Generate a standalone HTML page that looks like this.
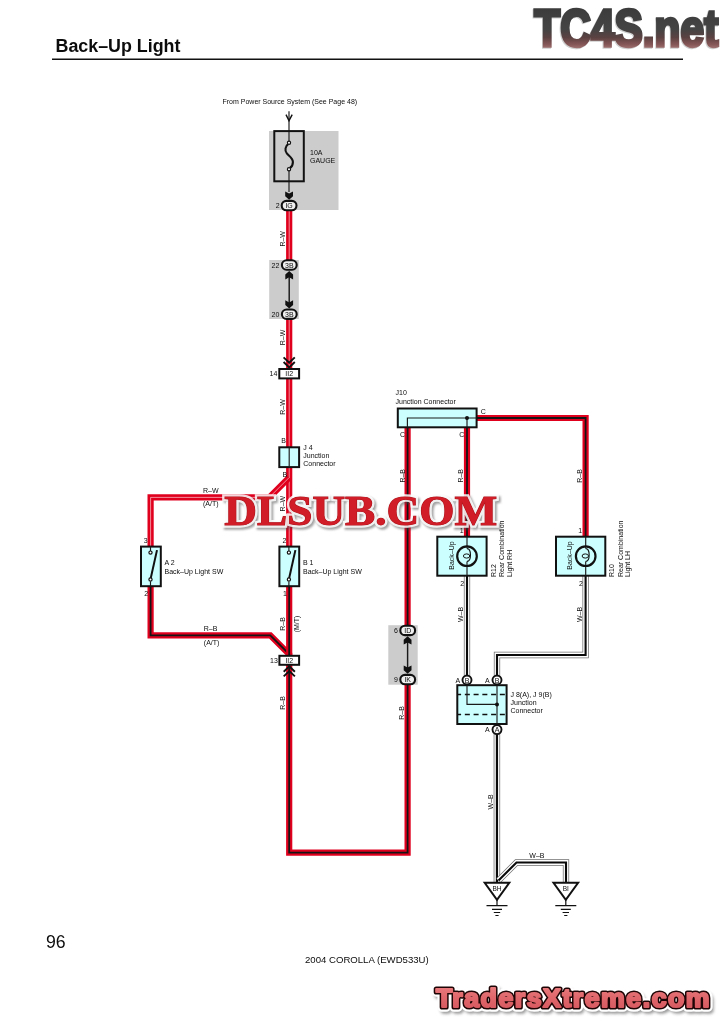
<!DOCTYPE html>
<html><head><meta charset="utf-8"><title>Back-Up Light</title>
<style>
html,body{margin:0;padding:0;background:#fff;}
body{width:724px;height:1024px;overflow:hidden;font-family:"Liberation Sans",sans-serif;}
svg{display:block;position:absolute;left:0;top:0;will-change:transform;}
text{font-family:"Liberation Sans",sans-serif;fill:#0c0c0c;}
.t{font-size:7px;}
.rw{fill:none;stroke:#e0001e;stroke-width:6.2;stroke-linejoin:miter;}
.rws{fill:none;stroke:#fff;stroke-width:1;stroke-opacity:.55;stroke-linejoin:miter;}
.rb{fill:none;stroke:#e0001e;stroke-width:6.2;stroke-linejoin:miter;}
.rbs{fill:none;stroke:#151515;stroke-width:1.8;stroke-linejoin:miter;}
.wbo{fill:none;stroke:#707070;stroke-width:6.3;stroke-linejoin:miter;}
.wbw{fill:none;stroke:#fff;stroke-width:4.8;stroke-linejoin:miter;}
.wbs{fill:none;stroke:#0a0a0a;stroke-width:2.1;stroke-linejoin:miter;}
.bx{fill:#ccffff;stroke:#111;stroke-width:2;}
.wx{fill:#fff;stroke:#111;stroke-width:2;}
.gr{fill:#cccccc;}
.ov{fill:#efefef;stroke:#111;stroke-width:2.1;}
.thin{fill:none;stroke:#1a1a1a;stroke-width:1.15;}
.k{fill:#111;}
</style></head><body>
<svg width="724" height="1024" viewBox="0 0 724 1024">
<!-- HEADER -->
<text x="55.5" y="52" font-size="17.85" font-weight="bold">Back–Up Light</text>
<rect x="52" y="58.5" width="631" height="1.5" fill="#111"/>
<!-- FOOTER -->
<text x="46" y="948.3" font-size="17.7">96</text>
<text x="305" y="963" font-size="9.6">2004 COROLLA (EWD533U)</text>

<!-- GRAY BOXES -->
<rect class="gr" x="269" y="131" width="69.5" height="79"/>
<rect class="gr" x="269.2" y="260" width="29.6" height="59"/>
<rect class="gr" x="388.3" y="625.2" width="29.4" height="59.5"/>

<!-- WIRES -->
<g id="wires">
<!-- R-W wires -->
<path class="rw" d="M289.2 209V261"/><path class="rws" d="M289.2 209V261"/>
<path class="rw" d="M289.2 318V369"/><path class="rws" d="M289.2 318V369"/>
<path class="rw" d="M289.2 378V447"/><path class="rws" d="M289.2 378V447"/>
<path class="rw" d="M289.2 467V547"/><path class="rws" d="M289.2 467V547"/>
<path class="rw" d="M289.2 477.5L269.3 497.4H150.6V547"/><path class="rws" d="M289.2 477.5L269.3 497.4H150.6V547"/>
<!-- R-B wires -->
<path class="rb" d="M150.6 586V635.3H270.3L289.2 654.2V656"/><path class="rbs" d="M150.6 586V635.3H270.3L289.2 654.2V656"/>
<path class="rb" d="M289.2 586V656"/><path class="rbs" d="M289.2 586V656"/>
<path class="rb" d="M289.2 665V852.6H407.6V684"/><path class="rbs" d="M289.2 665V852.6H407.6V684"/>
<path class="rb" d="M407.6 626V427"/><path class="rbs" d="M407.6 626V418"/>
<path class="rb" d="M467 427V537"/><path class="rbs" d="M467 418V537"/>
<path class="rb" d="M477 418H585.6V537"/><path class="rbs" d="M467 418H585.6V537"/>
<!-- W-B wires -->
<path class="wbo" d="M467 576V676"/><path class="wbw" d="M467 576V676"/><path class="wbs" d="M467 576V676"/>
<path class="wbo" d="M585.6 576V655H497V676"/><path class="wbw" d="M585.6 576V655H497V676"/><path class="wbs" d="M585.6 576V655H497V676"/>
<path class="wbo" d="M497 734V883"/><path class="wbw" d="M497 734V883"/><path d="M494.4 734V883" stroke="#c2c2c2" stroke-width="2.2" fill="none"/><path class="wbs" d="M497 734V883"/>
<path class="wbo" d="M498.5 880.5L516.5 862.5H566V883"/><path class="wbw" d="M498.5 880.5L516.5 862.5H566V883"/><path class="wbs" d="M498.5 880.5L516.5 862.5H566V883"/>
</g>
<!-- COMPONENTS -->
<g id="comps">
<path d="M289 111.2V141.2M289 170.8V192" stroke="#222" stroke-width="1.2" fill="none"/>
<path d="M286 114.6L289 120.6L292.2 114.6" stroke="#111" stroke-width="1.4" fill="none"/>
<rect x="274.3" y="131.1" width="29.5" height="50.2" fill="none" stroke="#111" stroke-width="2"/>
<path d="M288.2 144.2C285.4 146 284.4 150.6 286.8 153.4C288.9 155.9 292.9 158 292.9 162C292.9 165.2 291.6 167 289.9 168" stroke="#111" stroke-width="2.1" fill="none"/>
<circle cx="289" cy="142.8" r="1.6" fill="#fff" stroke="#111" stroke-width="1.2"/><circle cx="289" cy="169.2" r="1.6" fill="#fff" stroke="#111" stroke-width="1.2"/>
<path class="k" d="M285.2 191.4L289.1 193.6L293.0 191.4V196.2L289.1 199.8L285.2 196.2Z"/>
<rect class="ov" x="281.7" y="200.9" width="14.8" height="9.4" rx="4.7"/><text class="t" x="289.1" y="208.1" text-anchor="middle">IG</text>
<path d="M289.2 276V304" stroke="#1a1a1a" stroke-width="1.45"/>
<path class="k" d="M285.3 279.4L289.2 277.2L293.1 279.4V274.6L289.2 271L285.3 274.6Z"/>
<path class="k" d="M285.3 300.2L289.2 302.4L293.1 300.2V305.0L289.2 308.6L285.3 305.0Z"/>
<rect class="ov" x="281.9" y="260.3" width="14.8" height="9.4" rx="4.7"/><text class="t" x="289.3" y="267.5" text-anchor="middle">3B</text>
<rect class="ov" x="281.9" y="309.5" width="14.8" height="9.4" rx="4.7"/><text class="t" x="289.3" y="316.7" text-anchor="middle">3B</text>
<path d="M283.6 357.4L289.2 362.8L294.8 357.4M283.6 362L289.2 367.4L294.8 362" fill="none" stroke="#111" stroke-width="1.9"/>
<rect class="wx" x="279.3" y="369" width="19.8" height="9.4"/><text class="t" x="289.2" y="376.2" text-anchor="middle">II2</text>
<rect class="bx" x="279.3" y="447.3" width="19.8" height="19.8"/><path class="thin" d="M289.2 447.3V467"/>
<rect class="bx" x="141" y="546.6" width="19.8" height="39.6"/><path class="thin" d="M150.5 546.6V551.2M150.5 581.2V586.6"/><path d="M150.5 579.3L157 550.1" stroke="#111" stroke-width="2" fill="none"/><circle cx="150.5" cy="552.6" r="1.6" fill="#fff" stroke="#111" stroke-width="1.2"/><circle cx="150.5" cy="579.4" r="1.6" fill="#fff" stroke="#111" stroke-width="1.2"/>
<rect class="bx" x="279.4" y="546.6" width="19.8" height="39.6"/><path class="thin" d="M288.9 546.6V551.2M288.9 581.2V586.6"/><path d="M288.9 579.3L295.4 550.1" stroke="#111" stroke-width="2" fill="none"/><circle cx="288.9" cy="552.6" r="1.6" fill="#fff" stroke="#111" stroke-width="1.2"/><circle cx="288.9" cy="579.4" r="1.6" fill="#fff" stroke="#111" stroke-width="1.2"/>
<rect class="wx" x="279.4" y="655.8" width="19.7" height="9"/><text class="t" x="289.3" y="662.8" text-anchor="middle">II2</text>
<path d="M283.7 671.8L289.3 666.4L294.9 671.8M283.7 676.4L289.3 671.0L294.9 676.4" fill="none" stroke="#111" stroke-width="1.9"/>
<path d="M407.6 642V668" stroke="#1a1a1a" stroke-width="1.45"/>
<path class="k" d="M403.7 644.6L407.6 642.4L411.5 644.6V639.8L407.6 636.2L403.7 639.8Z"/>
<path class="k" d="M403.7 665.4L407.6 667.6L411.5 665.4V670.2L407.6 673.8L403.7 670.2Z"/>
<rect class="ov" x="400.3" y="625.7" width="14.8" height="9.4" rx="4.7"/><text class="t" x="407.7" y="632.9" text-anchor="middle">ID</text>
<rect class="ov" x="400.3" y="674.9" width="14.8" height="9.4" rx="4.7"/><text class="t" x="407.7" y="682.1" text-anchor="middle">IK</text>
<rect class="bx" x="397.8" y="408.5" width="78.8" height="18.8"/>
<path class="thin" d="M407.4 427.3V418H477M467 418V427.3"/><circle class="k" cx="467" cy="418" r="2"/>
<rect class="bx" x="437.3" y="536.7" width="49.3" height="39"/><path class="thin" d="M467 536.7V548.6M467 561.4V575.7"/><circle cx="467" cy="556.2" r="9.8" fill="none" stroke="#111" stroke-width="2.2"/><path d="M467 548.6C471.6 548.6 471.6 561.4 467 561.4" fill="none" stroke="#111" stroke-width="1.15"/><ellipse cx="466.6" cy="556" rx="3.2" ry="2.1" fill="none" stroke="#111" stroke-width="1"/>
<rect class="bx" x="556.0" y="536.7" width="49.3" height="39"/><path class="thin" d="M585.7 536.7V548.6M585.7 561.4V575.7"/><circle cx="585.7" cy="556.2" r="9.8" fill="none" stroke="#111" stroke-width="2.2"/><path d="M585.7 548.6C590.3000000000001 548.6 590.3000000000001 561.4 585.7 561.4" fill="none" stroke="#111" stroke-width="1.15"/><ellipse cx="585.3000000000001" cy="556" rx="3.2" ry="2.1" fill="none" stroke="#111" stroke-width="1"/>
<rect class="bx" x="457.3" y="685.2" width="49.3" height="38.8"/>
<path d="M457.3 694.4H506.6M457.3 714.6H506.6" stroke="#111" stroke-width="1.5" stroke-dasharray="5 3.75" stroke-dashoffset="1.2" fill="none"/>
<path class="thin" d="M467 685V704.4H497M497 685V724"/><circle class="k" cx="497" cy="704.4" r="2"/>
<circle cx="467" cy="680" r="4.5" fill="#fff" stroke="#111" stroke-width="1.9"/><text class="t" x="467" y="682.5" text-anchor="middle">B</text>
<circle cx="497" cy="680" r="4.5" fill="#fff" stroke="#111" stroke-width="1.9"/><text class="t" x="497" y="682.5" text-anchor="middle">B</text>
<circle cx="497" cy="729.6" r="4.5" fill="#fff" stroke="#111" stroke-width="1.9"/><text class="t" x="497" y="732.1" text-anchor="middle">A</text>
<path d="M484.7 882.8H509.3L497 899.8Z" fill="#fff" stroke="#111" stroke-width="2" stroke-linejoin="miter"/><text x="497" y="891.1" font-size="6.5" text-anchor="middle">BH</text><path d="M497 899.8V905.6" stroke="#111" stroke-width="1.2"/><path d="M486.5 905.6H507.5M492 909.4H502M493.8 912.5H500.2M495.4 915.5H498.6" stroke="#111" stroke-width="1.2"/>
<path d="M553.5 882.8H578.1L565.8 899.8Z" fill="#fff" stroke="#111" stroke-width="2" stroke-linejoin="miter"/><text x="565.8" y="891.1" font-size="6.5" text-anchor="middle">BI</text><path d="M565.8 899.8V905.6" stroke="#111" stroke-width="1.2"/><path d="M555.3 905.6H576.3M560.8 909.4H570.8M562.6 912.5H569.0M564.2 915.5H567.4" stroke="#111" stroke-width="1.2"/>
</g>
<!-- LABELS -->
<g id="labels">
<text class="t" x="222.5" y="104.3">From Power Source System (See Page 48)</text>
<text class="t" x="310" y="155">10A</text>
<text class="t" x="310" y="162.5">GAUGE</text>
<text class="t" x="275.7" y="207.8">2</text>
<text class="t" x="271.5" y="267.5">22</text>
<text class="t" x="271.5" y="316.7">20</text>
<text class="t" transform="translate(285.0 238.8) rotate(-90)" text-anchor="middle">R–W</text>
<text class="t" transform="translate(285.0 337.5) rotate(-90)" text-anchor="middle">R–W</text>
<text class="t" transform="translate(284.8 407) rotate(-90)" text-anchor="middle">R–W</text>
<text class="t" x="269.5" y="375.8">14</text>
<text class="t" transform="translate(284.9 503.6) rotate(-90)" text-anchor="middle">R–W</text>
<text class="t" x="281.3" y="443">B</text>
<text class="t" x="282.5" y="477">B</text>
<text class="t" x="303.3" y="449.5">J 4</text>
<text class="t" x="303.3" y="458">Junction</text>
<text class="t" x="303.3" y="465.5">Connector</text>
<text class="t" x="203" y="492.5">R–W</text>
<text class="t" x="203" y="506">(A/T)</text>
<text class="t" x="143.8" y="542.5">3</text>
<text class="t" x="282.5" y="542.5">2</text>
<text class="t" x="164.5" y="565">A 2</text>
<text class="t" x="164.5" y="573.8">Back–Up Light SW</text>
<text class="t" x="303" y="565">B 1</text>
<text class="t" x="303" y="573.8">Back–Up Light SW</text>
<text class="t" x="144.3" y="595.5">2</text>
<text class="t" x="283" y="595.5">1</text>
<text class="t" x="203.8" y="631.3">R–B</text>
<text class="t" x="203.8" y="644.5">(A/T)</text>
<text class="t" transform="translate(285.0 624) rotate(-90)" text-anchor="middle">R–B</text>
<text class="t" transform="translate(299.3 624) rotate(-90)" text-anchor="middle">(M/T)</text>
<text class="t" x="270" y="662.5">13</text>
<text class="t" transform="translate(285.0 703) rotate(-90)" text-anchor="middle">R–B</text>
<text class="t" x="394" y="632.9">6</text>
<text class="t" x="394" y="682.2">9</text>
<text class="t" transform="translate(403.8 713) rotate(-90)" text-anchor="middle">R–B</text>
<text class="t" x="395.5" y="395">J10</text>
<text class="t" x="395.5" y="403.8">Junction Connector</text>
<text class="t" x="480.8" y="413.8">C</text>
<text class="t" x="400" y="437">C</text>
<text class="t" x="459.3" y="437">C</text>
<text class="t" transform="translate(404.8 475.8) rotate(-90)" text-anchor="middle">R–B</text>
<text class="t" transform="translate(463.0 475.8) rotate(-90)" text-anchor="middle">R–B</text>
<text class="t" transform="translate(582.3 476) rotate(-90)" text-anchor="middle">R–B</text>
<text class="t" x="459.7" y="533.2">1</text>
<text class="t" x="578.2" y="533.2">1</text>
<text class="t" transform="translate(453.5 555.5) rotate(-90)" text-anchor="middle">Back–Up</text>
<text class="t" transform="translate(572.2 555.5) rotate(-90)" text-anchor="middle">Back–Up</text>
<text class="t" x="460.3" y="586.2">2</text>
<text class="t" x="579" y="586.2">2</text>
<text class="t" transform="translate(495.8 577) rotate(-90)">R12</text>
<text class="t" transform="translate(504.3 577) rotate(-90)">Rear Combination</text>
<text class="t" transform="translate(511.8 577) rotate(-90)">Light RH</text>
<text class="t" transform="translate(614.3 577) rotate(-90)">R10</text>
<text class="t" transform="translate(622.5 577) rotate(-90)">Rear Combination</text>
<text class="t" transform="translate(630.0 577) rotate(-90)">Light LH</text>
<text class="t" transform="translate(463.0 614.5) rotate(-90)" text-anchor="middle">W–B</text>
<text class="t" transform="translate(581.7 614.5) rotate(-90)" text-anchor="middle">W–B</text>
<text class="t" x="455.5" y="682.5">A</text>
<text class="t" x="485" y="682.5">A</text>
<text class="t" x="485" y="732">A</text>
<text class="t" x="510.5" y="696.5">J 8(A), J 9(B)</text>
<text class="t" x="510.5" y="705">Junction</text>
<text class="t" x="510.5" y="712.5">Connector</text>
<text class="t" transform="translate(492.5 801.8) rotate(-90)" text-anchor="middle">W–B</text>
<text class="t" x="529.3" y="858">W–B</text>
</g>
<!--LOGOS-->
<defs><linearGradient id="tcg" x1="0" y1="6" x2="0" y2="49" gradientUnits="userSpaceOnUse"><stop offset="0" stop-color="#3b3b3b"/><stop offset=".54" stop-color="#444444"/><stop offset=".73" stop-color="#5b4141"/><stop offset=".89" stop-color="#855656"/><stop offset="1" stop-color="#a47676"/></linearGradient><filter id="b06" x="-5%" y="-20%" width="110%" height="140%"><feGaussianBlur stdDeviation="0.6"/></filter><filter id="b1" x="-5%" y="-30%" width="110%" height="160%"><feGaussianBlur stdDeviation="1"/></filter><filter id="b15" x="-5%" y="-30%" width="110%" height="160%"><feGaussianBlur stdDeviation="1.5"/></filter></defs>
<g id="tc4s"><text x="534.3" y="46" font-size="52" font-weight="bold" textLength="184" lengthAdjust="spacingAndGlyphs" style="font-family:'Liberation Sans',sans-serif;fill:#cfcfcf;stroke:#cfcfcf;stroke-width:3.4;stroke-linejoin:miter" transform="translate(-0.9 0.5)" filter="url(#b06)">TC4S.net</text><text x="534.3" y="46" font-size="52" font-weight="bold" textLength="184" lengthAdjust="spacingAndGlyphs" style="font-family:'Liberation Sans',sans-serif;fill:url(#tcg);stroke:url(#tcg);stroke-width:3.4;stroke-linejoin:miter">TC4S.net</text></g>
<g id="dlsub"><g opacity=".5" transform="translate(1.7 2.3)" filter="url(#b1)"><text x="224.3" y="525.2" font-size="42" font-weight="bold" textLength="273" lengthAdjust="spacingAndGlyphs" style="font-family:'Liberation Serif',serif;fill:#444;stroke:#444;stroke-width:5.4;stroke-linejoin:miter">DLSUB.COM</text></g><g opacity=".84"><text x="224.3" y="525.2" font-size="42" font-weight="bold" textLength="273" lengthAdjust="spacingAndGlyphs" style="font-family:'Liberation Serif',serif;fill:#fff;stroke:#fff;stroke-width:5.4;stroke-linejoin:miter">DLSUB.COM</text></g><g opacity=".965"><text x="224.3" y="525.2" font-size="42" font-weight="bold" textLength="273" lengthAdjust="spacingAndGlyphs" style="font-family:'Liberation Serif',serif;fill:#ad0c15;stroke:#ad0c15;stroke-width:1.0;stroke-linejoin:miter">DLSUB.COM</text><text x="224.3" y="525.2" font-size="42" font-weight="bold" textLength="273" lengthAdjust="spacingAndGlyphs" style="font-family:'Liberation Serif',serif;fill:#cf1620">DLSUB.COM</text></g></g>
<defs><linearGradient id="txg" x1="0" y1="985" x2="0" y2="1010" gradientUnits="userSpaceOnUse"><stop offset="0" stop-color="#ea7e80"/><stop offset=".5" stop-color="#e0676c"/><stop offset="1" stop-color="#d6585f"/></linearGradient></defs>
<g id="tx"><text x="435.9" y="1006.9" font-size="26.7" font-weight="bold" textLength="273.7" lengthAdjust="spacing" style="font-family:'Liberation Sans',sans-serif;fill:#666;stroke:#555;stroke-width:7.5;stroke-linejoin:round" opacity=".6" transform="translate(2 2.8)" filter="url(#b15)">TradersXtreme.com</text><text x="435.9" y="1006.9" font-size="26.7" font-weight="bold" textLength="273.7" lengthAdjust="spacing" style="font-family:'Liberation Sans',sans-serif;fill:#fff;stroke:#fff;stroke-width:9.6;stroke-linejoin:round" filter="url(#b06)">TradersXtreme.com</text><text x="435.9" y="1006.9" font-size="26.7" font-weight="bold" textLength="273.7" lengthAdjust="spacing" style="font-family:'Liberation Sans',sans-serif;fill:#1e0404;stroke:#1e0404;stroke-width:5.2;stroke-linejoin:round">TradersXtreme.com</text><text x="435.9" y="1006.9" font-size="26.7" font-weight="bold" textLength="273.7" lengthAdjust="spacing" style="font-family:'Liberation Sans',sans-serif;fill:url(#txg);stroke:url(#txg);stroke-width:2.2;stroke-linejoin:round">TradersXtreme.com</text></g>
<!--/LOGOS-->
</svg>
</body></html>
